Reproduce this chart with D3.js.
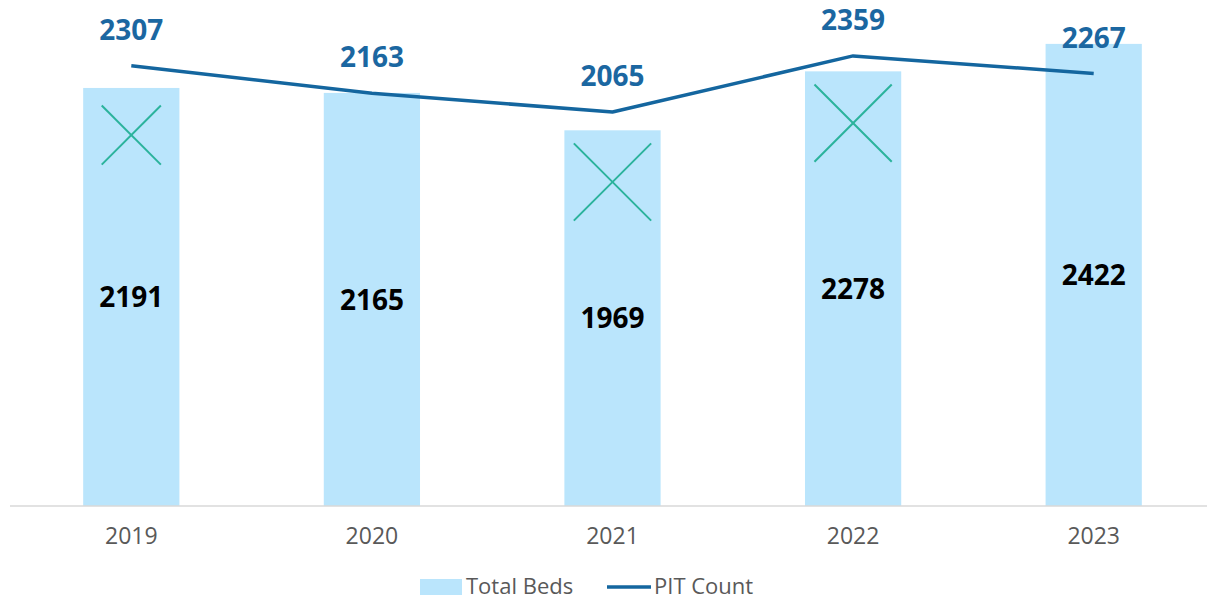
<!DOCTYPE html>
<html lang="en">
	<head>
		<meta charset="UTF-8" />
		<title>Total Beds and PIT Count</title>
		<style>
			html,
			body {
				margin: 0;
				padding: 0;
				width: 100%;
				height: 100%;
				overflow: hidden;
				background-color: #ffffff;
				font-family: 'Open Sans', sans-serif;
			}

			#chart {
				position: absolute;
				top: 0;
				left: 0;
			}
		</style>
	</head>
	<body>
		<svg id="chart"></svg>

		<script src="https://d3js.org/d3.v7.min.js"></script>

		<script>
			const years = ['2019', '2020', '2021', '2022', '2023'];
			const totalBeds = [2191, 2165, 1969, 2278, 2422];
			const pitCount = [2307, 2163, 2065, 2359, 2267];
			// cross markers inside some bars: year, value at the centre, full size in value units
			const crossYears = ['2019', '2021', '2022'];
			const crossValues = [1944, 1698, 2007];
			const crossSizes = [310, 405, 405];
			const legendLabels = ['Total Beds', 'PIT Count'];

			const width = 1207;
			const height = 600;
			const svg = d3.select('#chart').attr('width', width).attr('height', height);

			const x = d3.scaleBand().domain(years).range([11, 1214]).paddingInner(0.6).paddingOuter(0.3);
			const y = d3.scaleLinear().domain([0, 2500]).range([506, 29]);

			// bars
			svg.append('g')
				.selectAll('rect')
				.data(years)
				.join('rect')
				.attr('x', (d) => x(d))
				.attr('y', (d, i) => y(totalBeds[i]))
				.attr('width', x.bandwidth())
				.attr('height', (d, i) => y(0) - y(totalBeds[i]))
				.attr('fill', '#bae5fc');

			// crosses
			const half = (i) => (y(0) - y(crossSizes[i])) / 2;
			const cx = (d) => x(d) + x.bandwidth() / 2;
			const cross = svg.append('g')
				.selectAll('g')
				.data(crossYears)
				.join('g')
				.attr('stroke', '#2bb39c')
				.attr('stroke-width', 2);
			cross.append('line')
				.attr('x1', (d, i) => cx(d) - half(i))
				.attr('x2', (d, i) => cx(d) + half(i))
				.attr('y1', (d, i) => y(crossValues[i]) - half(i))
				.attr('y2', (d, i) => y(crossValues[i]) + half(i));
			cross.append('line')
				.attr('x1', (d, i) => cx(d) - half(i))
				.attr('x2', (d, i) => cx(d) + half(i))
				.attr('y1', (d, i) => y(crossValues[i]) + half(i))
				.attr('y2', (d, i) => y(crossValues[i]) - half(i));

			// x axis
			const xAxis = svg.append('g')
				.attr('transform', `translate(0,${y(0)})`)
				.call(d3.axisBottom(x).tickSize(0).tickPadding(22));
			xAxis.select('.domain').remove();
			xAxis.append('line')
				.attr('x1', 10)
				.attr('x2', width)
				.attr('stroke', '#d9d9d9')
				.attr('stroke-width', 1.5);
			xAxis.selectAll('text')
				.attr('font-family', "'Open Sans', sans-serif")
				.attr('font-size', 23)
				.attr('fill', '#595959');

			// bar labels
			svg.append('g')
				.selectAll('text')
				.data(years)
				.join('text')
				.attr('x', cx)
				.attr('y', (d, i) => (y(totalBeds[i]) + y(0)) / 2)
				.attr('dy', '0.36em')
				.attr('text-anchor', 'middle')
				.attr('font-size', 28)
				.attr('font-weight', 'bold')
				.attr('fill', '#000000')
				.text((d, i) => totalBeds[i]);

			// line
			const line = d3.line()
				.x(cx)
				.y((d, i) => y(pitCount[i]));
			svg.append('path')
				.datum(years)
				.attr('d', line)
				.attr('fill', 'none')
				.attr('stroke', '#14669f')
				.attr('stroke-width', 3.5)
				.attr('stroke-linejoin', 'round');

			// line labels
			svg.append('g')
				.selectAll('text')
				.data(years)
				.join('text')
				.attr('x', cx)
				.attr('y', (d, i) => y(pitCount[i]) - 36)
				.attr('dy', '0.36em')
				.attr('text-anchor', 'middle')
				.attr('font-size', 28)
				.attr('font-weight', 'bold')
				.attr('fill', '#1b67a1')
				.text((d, i) => pitCount[i]);

			// legend
			const legend = svg.append('g').attr('transform', 'translate(420,587)');
			legend.append('rect')
				.attr('x', 0)
				.attr('y', -8)
				.attr('width', 42)
				.attr('height', 16)
				.attr('fill', '#bae5fc');
			legend.append('text')
				.attr('x', 46)
				.attr('dy', '0.34em')
				.attr('font-size', 22)
				.attr('fill', '#595959')
				.text(legendLabels[0]);
			legend.append('line')
				.attr('x1', 187)
				.attr('x2', 231)
				.attr('stroke', '#14669f')
				.attr('stroke-width', 3.5);
			legend.append('text')
				.attr('x', 234)
				.attr('dy', '0.34em')
				.attr('font-size', 22)
				.attr('fill', '#595959')
				.text(legendLabels[1]);
		</script>
	</body>
</html>
